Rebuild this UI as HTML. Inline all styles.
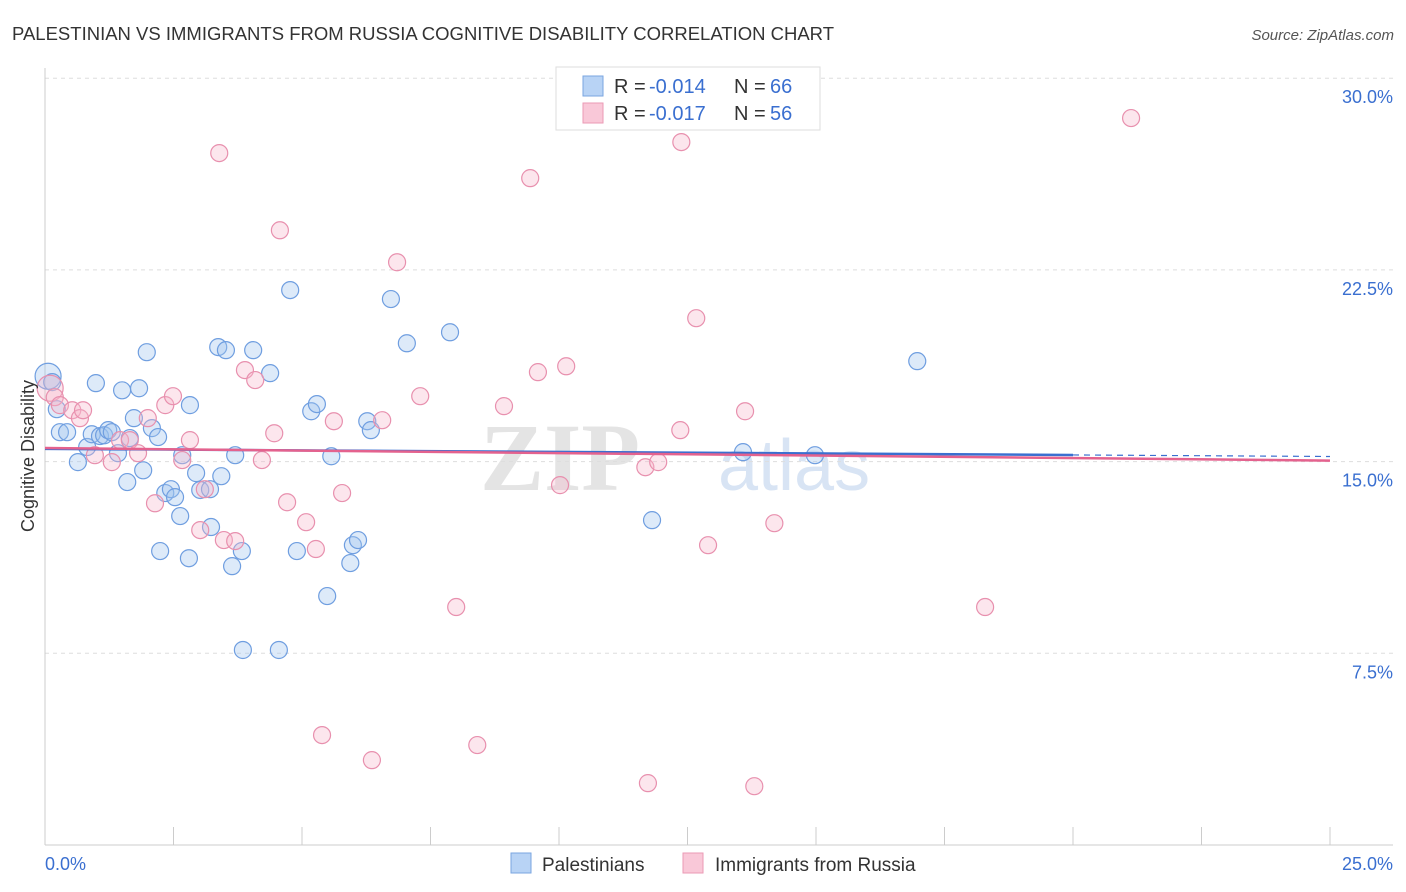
<!DOCTYPE html>
<html><head><meta charset="utf-8">
<style>
body{margin:0;background:#fff;font-family:"Liberation Sans",sans-serif;}
#wrap{position:relative;width:1406px;height:892px;overflow:hidden;}
</style></head>
<body>
<div id="wrap">
<svg id="svg" width="1406" height="892" xmlns="http://www.w3.org/2000/svg">
<text x="12" y="40" font-size="18.5" fill="#333">PALESTINIAN VS IMMIGRANTS FROM RUSSIA COGNITIVE DISABILITY CORRELATION CHART</text>
<text x="1394" y="40" font-size="15" fill="#555" text-anchor="end" font-style="italic">Source: ZipAtlas.com</text>
<text x="640" y="490" font-size="96" fill="#e4e4e4" font-family="Liberation Serif" font-weight="bold" text-anchor="end">ZIP</text>
<text x="718" y="490" font-size="72" fill="#d8e4f4">atlas</text>
<g id="grid"></g>
<g id="axes"></g>
<g id="pts"></g>
<g id="trends"></g>
<text transform="translate(34,456) rotate(-90)" font-size="18" fill="#333" text-anchor="middle">Cognitive Disability</text>
<g>
<rect x="556" y="67" width="264" height="63" fill="#fff" stroke="#ddd"/>
<rect x="583" y="76" width="20" height="20" fill="#b8d3f5" stroke="#7aa6e0"/>
<rect x="583" y="103" width="20" height="20" fill="#f9c8d8" stroke="#eb9ab5"/>
<text x="614" y="93" font-size="20" fill="#333">R = </text>
<text x="649" y="93" font-size="20" fill="#3a6fd0">-0.014</text>
<text x="734" y="93" font-size="20" fill="#333">N = </text>
<text x="770" y="93" font-size="20" fill="#3a6fd0">66</text>
<text x="614" y="120" font-size="20" fill="#333">R = </text>
<text x="649" y="120" font-size="20" fill="#3a6fd0">-0.017</text>
<text x="734" y="120" font-size="20" fill="#333">N = </text>
<text x="770" y="120" font-size="20" fill="#3a6fd0">56</text>
</g>
<g>
<rect x="511" y="853" width="20" height="20" fill="#b8d3f5" stroke="#7aa6e0"/>
<text x="542" y="871" font-size="19" fill="#333">Palestinians</text>
<rect x="683" y="853" width="20" height="20" fill="#f9c8d8" stroke="#eb9ab5"/>
<text x="715" y="871" font-size="19" fill="#333">Immigrants from Russia</text>
</g>
</svg>
</div>
<script>
const xTicks=[0,2.5,5,7.5,10,12.5,15,17.5,20,22.5,25];
const yTicks=[7.5,15,22.5,30];
const yTickLabels=["7.5%","15.0%","22.5%","30.0%"];
const blueX=[0.06,0.14,0.23,0.29,0.43,0.64,0.82,0.91,0.99,1.07,1.15,1.23,1.30,1.42,1.50,1.60,1.65,1.73,1.83,1.91,1.98,2.08,2.20,2.24,2.34,2.45,2.53,2.63,2.67,2.80,2.82,2.94,3.02,3.21,3.23,3.37,3.43,3.52,3.64,3.70,3.83,3.85,4.05,4.38,4.55,4.77,4.90,5.18,5.29,5.49,5.57,5.94,5.99,6.09,6.27,6.34,6.73,7.04,7.88,11.81,13.58,14.98,16.97];
const blueY=[18.34,18.11,17.05,16.15,16.15,14.98,15.57,16.07,18.07,16.0,16.03,16.23,16.15,15.33,17.79,14.2,15.92,16.70,17.87,14.66,19.28,16.31,15.96,11.50,13.77,13.92,13.61,12.87,15.25,11.22,17.21,14.55,13.89,13.92,12.44,19.48,14.43,19.36,10.91,15.25,11.50,7.63,19.36,18.46,7.63,21.71,11.50,16.97,17.25,9.74,15.21,11.03,11.73,11.93,16.58,16.23,21.36,19.63,20.06,12.71,15.37,15.25,18.93];
const pinkX=[0.10,0.19,0.29,0.53,0.68,0.74,0.97,1.30,1.46,1.65,1.81,2.00,2.14,2.34,2.49,2.67,2.82,3.02,3.11,3.39,3.48,3.70,3.89,4.09,4.22,4.46,4.57,4.71,5.08,5.27,5.39,5.62,5.78,6.36,6.56,6.85,7.30,8.00,8.41,8.93,9.44,9.59,10.02,10.14,11.73,11.68,11.93,12.36,12.38,12.67,12.90,13.62,13.80,14.19,18.29,21.13];
const pinkY=[17.87,17.52,17.21,17.01,16.70,17.01,15.25,14.98,15.84,15.84,15.33,16.70,13.37,17.21,17.56,15.06,15.84,12.32,13.92,27.07,11.93,11.89,18.58,18.19,15.06,16.11,24.05,13.41,12.63,11.58,4.30,16.58,13.77,3.32,16.62,22.80,17.56,9.31,3.91,17.17,26.09,18.50,14.08,18.73,2.42,14.78,14.98,16.23,27.50,20.61,11.73,16.97,2.30,12.59,9.31,28.44];
const blueTrend=[15.50,-0.012];
const pinkTrend=[15.53,-0.0196];
const NS="http://www.w3.org/2000/svg";
const X=v=>45+v*51.4;
const Y=v=>845-v*25.56;
function mk(tag,attrs,parent){const e=document.createElementNS(NS,tag);for(const k in attrs)e.setAttribute(k,attrs[k]);parent.appendChild(e);return e;}
const grid=document.getElementById('grid'),axes=document.getElementById('axes'),pts=document.getElementById('pts'),tr=document.getElementById('trends');
yTicks.forEach((t,i)=>{
 const l=mk('line',{x1:45,x2:1393,y1:Y(t),y2:Y(t),stroke:'#ddd','stroke-dasharray':'4,4'},grid);
 
 
 const tx=mk('text',{x:1393,y:Y(t)+25,'font-size':18,fill:'#3a6fd0','text-anchor':'end'},axes);
 tx.textContent=yTickLabels[i];
 
 
});
const ya=mk('line',{x1:45,x2:45,y1:68,y2:845,stroke:'#ccc'},axes);


const xa=mk('line',{x1:45,x2:1393,y1:845,y2:845,stroke:'#ccc'},axes);


xTicks.forEach(t=>{
 const l=mk('line',{x1:X(t),x2:X(t),y1:827,y2:845,stroke:'#ccc'},axes);
 
 
});
const x0=mk('text',{x:45,y:870,'font-size':18,fill:'#3a6fd0'},axes);x0.textContent='0.0%';


const x1=mk('text',{x:1393,y:870,'font-size':18,fill:'#3a6fd0','text-anchor':'end'},axes);x1.textContent='25.0%';


function dots(xs,ys,fill,stroke,name){
 xs.forEach((v,i)=>{
  const r=i===0?13:8.5;
  const c=mk('circle',{cx:X(v),cy:Y(ys[i]),r:r,fill:fill,'fill-opacity':0.35,stroke:stroke,'stroke-width':1.2},pts);
  
  
 });
}
dots(blueX,blueY,'#9ec2ef','#6f9ee0','palestinian-point');
dots(pinkX,pinkY,'#f6b6cb','#e890ae','russia-point');
let l=mk('line',{x1:X(0),y1:Y(blueTrend[0]),x2:X(20),y2:Y(blueTrend[0]+blueTrend[1]*20),stroke:'#3a6fd0','stroke-width':2.5},tr);


l=mk('line',{x1:X(20),y1:Y(blueTrend[0]+blueTrend[1]*20),x2:X(25),y2:Y(blueTrend[0]+blueTrend[1]*25),stroke:'#3a6fd0','stroke-width':1.2,'stroke-dasharray':'6,5'},tr);


l=mk('line',{x1:X(0),y1:Y(pinkTrend[0]),x2:X(25),y2:Y(pinkTrend[0]+pinkTrend[1]*25),stroke:'#e4628e','stroke-width':2.5},tr);


</script>
</body></html>
